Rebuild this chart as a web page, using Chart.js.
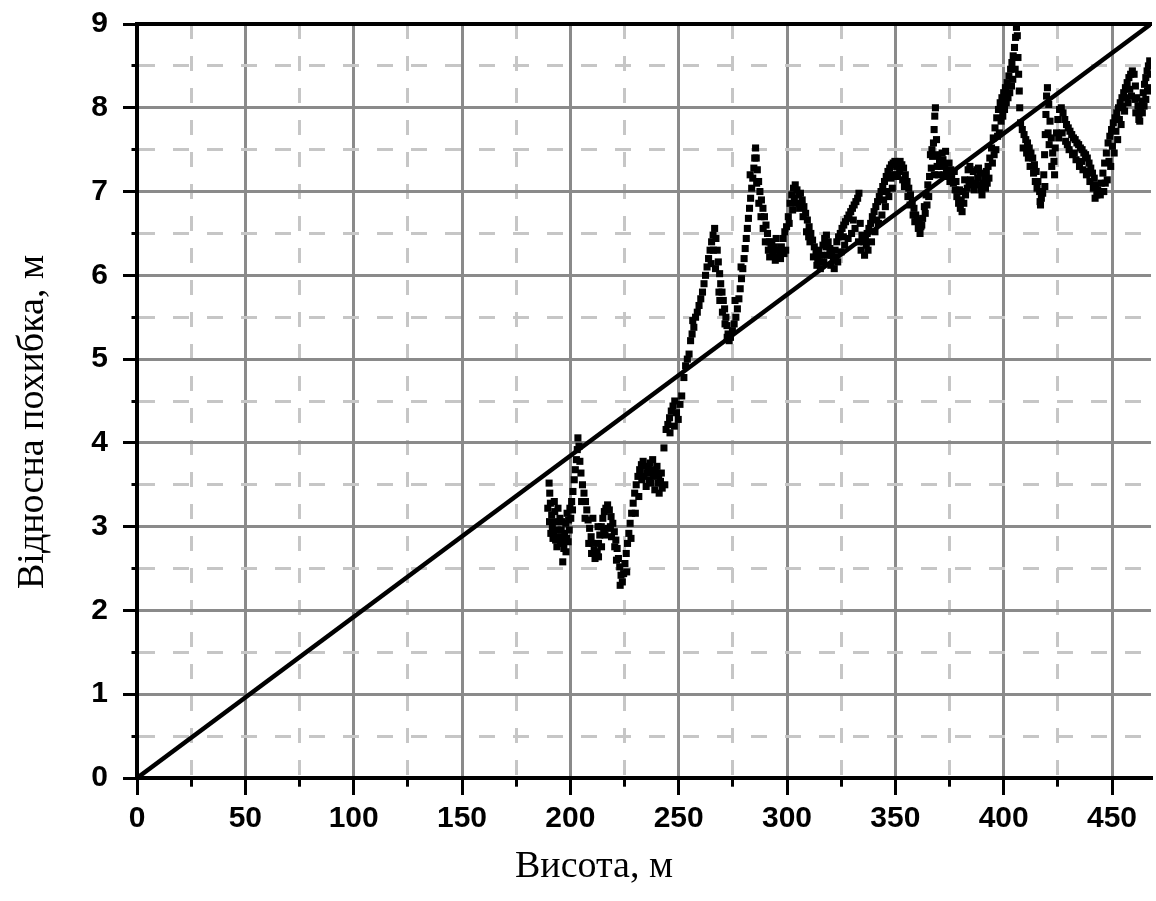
<!DOCTYPE html>
<html lang="uk">
<head>
<meta charset="utf-8">
<title>Відносна похибка від висоти</title>
<script src="https://cdn.jsdelivr.net/npm/chart.js@4/dist/chart.umd.min.js"></script>
<style>
  html, body { margin: 0; padding: 0; background: #ffffff; }
  canvas { display: block; }
</style>
</head>
<body>
<canvas id="chart" width="1156" height="901"></canvas>
<script>
// Measured relative error [height m, error m], grouped by height range
const band190to252 = [
  [190.2,3.52],[190.5,3.40],[190.8,3.28],[189.6,3.22],[191.4,3.14],[190.4,3.06],[191.7,3.00],[192.0,2.86],
  [192.3,2.94],[192.8,3.18],[193.5,3.06],[193.8,2.76],[194.0,2.96],[194.6,2.88],[193.2,2.84],[195.2,3.10],
  [195.5,2.82],[195.8,2.96],[196.2,2.86],[196.8,2.80],[197.0,2.74],[197.4,2.92],[197.9,3.04],[198.3,2.86],
  [198.5,3.16],[199.2,3.08],[199.5,2.96],[199.8,3.22],[200.2,3.10],[200.6,3.30],[196.5,2.58],
  [201.2,3.42],[201.8,3.56],[202.3,3.68],[202.8,3.80],[203.2,3.92],[203.5,4.06],[204.0,3.96],[204.4,3.78],
  [204.9,3.64],[205.6,3.50],[206.3,3.40],[207.0,3.30],[207.6,3.20],[208.2,3.08],[208.9,2.98],[209.6,2.88],
  [210.3,2.80],[211.0,2.72],[211.7,2.66],[212.4,2.70],[213.0,2.80],[213.6,2.90],[214.3,3.00],[215.0,3.10],
  [215.7,3.18],[216.4,3.22],[217.2,3.26],[218.0,3.20],[218.8,3.12],[219.6,3.04],[220.3,2.94],[221.0,2.84],
  [221.6,2.74],[222.2,2.62],[222.8,2.52],[223.4,2.42],[224.0,2.34],[224.6,2.44],[225.2,2.56],[225.8,2.68],
  [226.4,2.80],[227.0,2.92],[227.6,3.04],[228.3,3.16],[229.0,3.28],[229.7,3.40],[230.4,3.50],[231.2,3.60],
  [232.0,3.68],[232.8,3.74],[233.6,3.78],[234.4,3.72],[235.2,3.64],[236.0,3.70],[236.8,3.76],[237.6,3.68],
  [238.4,3.60],[239.2,3.66],[240.0,3.72],[240.8,3.62],[241.6,3.54],[242.4,3.46],
  [209.8,2.68],[211.4,2.62],[213.0,2.64],[214.4,2.76],[216.0,2.90],[217.4,2.98],[219.0,2.88],[220.5,2.76],
  [212.8,3.00],[210.4,3.10],
  [233.0,3.56],[235.0,3.48],[237.0,3.52],[239.0,3.44],[241.0,3.40],[243.2,3.94],
  [244.2,4.16],[245.0,4.22],[245.8,4.30],[246.6,4.38],[247.4,4.44],[248.2,4.50],[249.0,4.36],[249.8,4.28],
  [250.6,4.46],[251.4,4.56],[246.0,4.12],[248.0,4.20],
  [191.0,2.92],[192.6,3.30],[194.3,3.22],[196.0,3.06],[198.0,2.70],[199.0,2.82],[201.0,3.20],[205.2,3.30],
  [206.8,3.10],[208.5,2.80],[215.4,2.96],[218.5,3.00],[221.3,2.60],[223.0,2.30],[226.0,2.46],[228.0,2.86],
  [230.0,3.16],[231.6,3.36],[234.0,3.60],[236.4,3.56],[238.0,3.80],[240.4,3.52],[242.0,3.64],[243.6,3.50]
];

const band252to300 = [
  [252.4,4.78],[253.2,4.92],[254.0,5.00],[254.8,5.06],[255.5,5.22],[256.2,5.30],[257.0,5.38],[256.5,5.46],
  [257.8,5.50],[258.6,5.56],[259.4,5.64],[260.2,5.72],[261.0,5.80],[261.7,5.90],[262.4,6.00],[263.1,6.10],
  [263.8,6.20],[264.5,6.30],[265.2,6.40],[265.9,6.48],[266.6,6.56],[267.2,6.44],[267.8,6.30],[268.3,6.16],
  [267.0,6.08],[268.9,6.02],[269.4,5.90],[270.0,5.80],[270.6,5.70],[271.2,5.60],[271.8,5.50],[272.3,5.40],
  [272.8,5.30],[273.3,5.22],[269.0,5.70],[270.2,5.56],[271.4,5.42],[272.4,5.26],
  [273.9,5.26],[274.8,5.34],[275.6,5.42],[276.4,5.50],[277.1,5.60],[277.8,5.72],[278.4,5.84],[279.0,5.96],
  [279.6,6.08],[280.2,6.20],[280.7,6.32],[281.2,6.44],[281.7,6.56],[282.2,6.68],[282.7,6.80],[283.2,6.92],
  [283.7,7.04],[284.2,7.16],[284.7,7.28],[285.1,7.40],[285.5,7.52],
  [285.8,7.40],[286.3,7.26],[286.9,7.12],[287.5,7.00],[288.2,6.90],[288.9,6.80],[289.6,6.70],[290.3,6.60],
  [291.0,6.50],[291.8,6.40],[292.6,6.32],[293.4,6.26],[294.2,6.34],[295.0,6.44],[295.8,6.30],[296.6,6.24],
  [297.4,6.34],[298.2,6.44],[299.0,6.52],[299.8,6.58],[292.0,6.22],[294.6,6.18],[297.0,6.20],[299.4,6.30],
  [286.0,7.10],[287.0,6.86],[288.0,6.70],[289.0,6.56],[290.0,6.40],[291.4,6.30],[293.0,6.40],[295.4,6.22],
  [298.6,6.26],[266.0,6.30],[265.0,6.14],[268.6,5.80],[276.0,5.70],[278.8,6.10],[283.0,7.20]
];

const band300to350 = [
  [300.6,6.70],[301.4,6.86],[302.2,6.96],[303.0,7.04],[303.8,7.08],[304.6,7.02],[305.4,6.96],[306.2,6.98],
  [307.0,6.90],[307.8,6.82],[308.6,6.74],[309.4,6.66],[310.2,6.58],[311.0,6.50],[311.8,6.42],[312.6,6.34],
  [313.4,6.26],[314.2,6.20],[315.0,6.16],[315.8,6.24],[316.6,6.36],[317.4,6.44],[318.2,6.48],[319.0,6.40],
  [319.8,6.32],[320.6,6.24],[321.4,6.18],[322.2,6.30],[323.0,6.40],[323.8,6.46],[324.6,6.50],[325.4,6.56],
  [326.2,6.60],[327.0,6.64],[327.8,6.68],[328.6,6.72],[329.4,6.76],[330.2,6.80],[331.0,6.84],[331.8,6.88],
  [332.6,6.92],[333.2,6.98],[333.8,6.62],[334.6,6.48],[335.4,6.40],[336.2,6.44],[337.0,6.50],[337.8,6.56],
  [338.6,6.62],[339.4,6.70],[340.2,6.76],[341.0,6.82],[341.8,6.88],[342.6,6.94],[343.4,7.00],[344.2,7.06],
  [345.0,7.12],[345.8,7.18],[346.6,7.24],[347.4,7.28],[348.2,7.32],[349.0,7.34],[349.8,7.36],
  [301.0,6.62],[302.6,6.78],[304.2,6.86],[305.8,6.80],[307.4,6.70],[309.0,6.52],[310.6,6.40],[312.2,6.22],
  [313.8,6.12],[315.4,6.08],[317.0,6.16],[318.6,6.24],[320.2,6.12],[321.8,6.08],[323.4,6.16],[325.0,6.28],
  [326.6,6.36],[328.2,6.44],[329.8,6.50],[331.4,6.56],[333.0,6.40],[334.2,6.30],[335.8,6.24],[337.4,6.30],
  [339.0,6.40],[340.6,6.52],[342.2,6.62],[343.8,6.72],[345.4,6.82],[347.0,6.94],[348.6,7.04],
  [303.4,6.92],[306.8,6.84],[310.0,6.46],[314.6,6.30],[318.0,6.34],[322.6,6.22],[326.0,6.46],[330.6,6.66],
  [336.6,6.36],[341.4,6.66],[344.6,6.90],[346.2,7.00],[348.0,7.16],[349.4,7.20]
];

const band350to408 = [
  [350.6,7.30],[351.4,7.34],[352.2,7.36],[353.0,7.32],[353.8,7.28],[354.6,7.20],[355.4,7.12],[356.2,7.04],
  [357.0,6.96],[357.8,6.88],[358.6,6.80],[359.4,6.72],[360.2,6.66],[361.0,6.62],[361.8,6.58],[362.6,6.68],
  [363.4,6.82],[364.2,6.96],[365.0,7.08],[365.8,7.18],[366.6,7.28],[367.2,7.42],[367.6,7.58],[367.9,7.74],
  [368.2,7.90],[368.5,8.00],[369.0,7.62],[369.6,7.44],[370.4,7.36],[371.2,7.30],[372.0,7.38],[372.8,7.32],
  [373.6,7.24],[374.4,7.18],[375.2,7.12],[376.0,7.16],[376.8,7.10],[377.6,7.02],[378.4,6.94],[379.2,6.86],
  [380.0,6.80],[380.8,6.76],[381.6,6.86],[382.4,6.96],[383.2,7.04],[384.0,7.10],[384.8,7.14],[385.6,7.08],
  [386.4,7.02],[387.2,7.10],[388.0,7.16],[388.8,7.08],[389.6,7.02],[390.4,7.10],[391.2,7.18],[392.0,7.24],
  [392.8,7.30],[393.6,7.40],[394.4,7.52],[395.2,7.64],[396.0,7.76],[396.8,7.88],[397.6,7.98],[398.4,8.06],
  [399.2,8.12],[400.0,8.18],[400.8,8.24],[401.6,8.30],[402.4,8.38],[403.2,8.46],[403.8,8.54],[404.4,8.62],
  [405.0,8.72],[405.5,8.84],[405.9,8.96],[406.3,8.86],[406.6,8.60],[406.9,8.40],[407.2,8.20],[407.4,8.00],
  [351.0,7.18],[353.4,7.14],[355.8,6.94],[358.2,6.72],[360.6,6.56],[362.2,6.60],[363.8,6.74],[365.4,6.94],
  [366.2,7.44],[368.0,7.20],[370.0,7.20],[371.6,7.46],[373.2,7.48],[374.8,7.34],[377.2,7.24],[379.6,7.02],
  [382.0,7.14],[383.6,7.26],[386.0,7.24],[388.4,7.28],[390.0,6.96],[391.6,7.04],[393.2,7.16],[394.8,7.34],
  [396.4,7.50],[398.0,7.70],[399.6,7.90],[401.2,8.06],[402.8,8.18],[404.2,8.34],
  [350.2,7.20],[352.0,7.24],[354.2,7.06],[356.8,6.84],[359.0,6.64],[361.4,6.50],[364.6,6.84],[366.9,7.50],
  [369.3,7.30],[372.4,7.20],[375.6,7.26],[378.0,7.12],[380.4,6.90],[381.2,7.00],[384.4,7.30],[387.6,7.26],
  [389.2,7.22],[392.4,7.10],[395.6,7.44],[397.2,7.66],[398.8,7.84],[400.4,7.98],[402.0,8.12],[403.6,8.26],
  [405.3,8.46]
];

const band408to468 = [
  [407.8,7.82],[408.6,7.74],[409.4,7.68],[410.2,7.62],[411.0,7.58],[411.8,7.52],[412.6,7.46],[413.4,7.40],
  [414.2,7.32],[415.0,7.24],[415.8,7.12],[416.6,7.00],[417.4,6.92],[418.0,6.98],[418.5,7.20],[418.9,7.44],
  [419.2,7.68],[419.5,7.92],[419.8,8.14],[420.2,8.24],[420.8,8.04],[421.4,7.84],[422.0,7.64],[422.6,7.46],
  [423.2,7.36],[423.8,7.52],[424.4,7.70],[425.0,7.86],[425.8,7.98],[426.6,8.00],[427.4,7.94],[428.2,7.86],
  [429.0,7.80],[429.8,7.76],[430.6,7.72],[431.4,7.68],[432.2,7.64],[433.0,7.62],[433.8,7.58],[434.6,7.56],
  [435.4,7.52],[436.2,7.50],[437.0,7.46],[437.8,7.44],[438.6,7.40],[439.4,7.34],[440.2,7.28],[441.0,7.22],
  [441.8,7.16],[442.6,7.08],[443.4,7.02],[444.2,7.00],[445.0,7.10],[445.8,7.22],[446.6,7.34],[447.4,7.46],
  [448.2,7.58],[449.0,7.66],[449.8,7.74],[450.6,7.82],[451.4,7.88],[452.2,7.94],[453.0,8.00],[453.8,8.06],
  [454.6,8.12],[455.4,8.18],[456.2,8.24],[457.0,8.30],[457.8,8.36],[458.6,8.40],[459.4,8.44],[460.2,8.40],
  [460.8,8.26],[461.4,8.12],[462.0,8.02],[462.6,7.94],[463.2,7.98],[463.8,8.08],[464.4,8.18],[465.0,8.28],
  [465.6,8.36],[466.2,8.44],[466.8,8.50],[467.4,8.56],
  [428.6,7.60],[430.2,7.50],[431.8,7.44],[433.4,7.38],[435.0,7.30],[436.6,7.26],[438.2,7.20],[439.8,7.12],
  [441.4,7.04],[443.0,6.96],[446.2,7.00],[447.8,7.14],[449.4,7.30],[451.0,7.46],[452.6,7.62],[454.2,7.80],
  [455.8,7.96],[457.4,8.06],[459.0,8.14],[461.0,7.94],[462.4,7.86],[464.0,7.94],[465.6,8.10],[467.2,8.24],
  [409.0,7.52],[411.4,7.40],[413.8,7.22],[415.4,7.04],[416.8,6.88],[421.0,7.56],[422.2,7.30],
  [410.6,7.46],[412.2,7.30],[414.6,7.12],[417.0,6.84],[419.0,7.06],[420.5,7.70],[423.5,7.20],[425.4,7.64],
  [427.0,7.70],[429.4,7.56],[432.6,7.46],[436.0,7.36],[439.0,7.24],[442.2,6.92],[444.6,6.96],[446.9,7.10],
  [448.6,7.36],[450.2,7.54],[451.8,7.72],[453.4,7.86],[455.0,8.02],[456.6,8.12],[458.2,8.22],[460.6,8.10],
  [462.8,7.84],[464.8,8.02],[466.4,8.20],[467.8,8.40]
];

// Linear trend of the error with height
const trendHeights = [0, 468];
const trendErrors = [0, 9];

// Axis ranges, tick steps and titles
const heightRange = [0, 468];
const errorRange = [0, 9];
const heightStep = 25, heightLabelStep = 50;
const errorStep = 0.5, errorLabelStep = 1;
const heightTitle = 'Висота, м';
const errorTitle = 'Відносна похибка, м';

const measured = [band190to252, band252to300, band300to350, band350to408, band408to468]
  .flat()
  .map(([x, y]) => ({ x, y }));
const trend = trendHeights.map((x, i) => ({ x, y: trendErrors[i] }));

const MAJOR_GRID = '#8a8a8a';
const MINOR_GRID = '#c6c6c6';
const NONE = 'rgba(0,0,0,0)';
const tickFont = { family: '"Liberation Sans", Arial, Helvetica, sans-serif', size: 30, weight: 'bold' };

const onStep = (v, step) => Math.abs(v / step - Math.round(v / step)) < 1e-6;

function gridColor(step, labelStep) {
  return c => {
    if (!c.tick) return NONE;
    const v = c.tick.value;
    if (v === 0 || !onStep(v, step)) return NONE;
    return onStep(v, labelStep) ? MAJOR_GRID : MINOR_GRID;
  };
}
function tickColor(step) {
  return c => (c.tick && onStep(c.tick.value, step)) ? '#000' : NONE;
}
function gridDash(labelStep, dash) {
  return c => (c.tick && !onStep(c.tick.value, labelStep)) ? dash : [];
}

// Titles for both axes, drawn in a serif face
const axisTitles = {
  id: 'axisTitles',
  afterDraw(chart) {
    const { ctx } = chart;
    ctx.save();
    ctx.fillStyle = '#000';
    ctx.font = '38px "Liberation Serif", "Times New Roman", serif';
    ctx.textAlign = 'center';
    ctx.textBaseline = 'alphabetic';
    ctx.fillText(heightTitle, 594, 877);
    ctx.translate(43, 422);
    ctx.rotate(-Math.PI / 2);
    ctx.fillText(errorTitle, 0, 0);
    ctx.restore();
  }
};

new Chart(document.getElementById('chart'), {
  type: 'scatter',
  data: {
    datasets: [
      {
        label: 'measured',
        data: measured,
        pointStyle: 'rect',
        pointRadius: 5,
        backgroundColor: '#000',
        borderWidth: 0,
        order: 2
      },
      {
        label: 'trend',
        data: trend,
        showLine: true,
        borderColor: '#000',
        borderWidth: 4.5,
        pointRadius: 0,
        order: 1
      }
    ]
  },
  options: {
    responsive: false,
    animation: false,
    events: [],
    layout: { padding: { left: 0, right: 0, top: 24, bottom: 0 } },
    plugins: { legend: { display: false }, tooltip: { enabled: false } },
    scales: {
      x: {
        type: 'linear',
        position: 'bottom',
        min: heightRange[0],
        max: heightRange[1],
        bounds: 'data',
        grid: {
          color: gridColor(heightStep, heightLabelStep),
          lineWidth: 3,
          tickColor: tickColor(heightStep),
          tickWidth: 3,
          tickLength: 17,
          tickBorderDash: gridDash(heightLabelStep, [6.7, 40])
        },
        border: { display: true, color: '#000', width: 4, dash: gridDash(heightLabelStep, [15, 17]) },
        ticks: {
          stepSize: heightStep,
          includeBounds: false,
          autoSkip: false,
          maxRotation: 0,
          maxTicksLimit: 100,
          padding: 6,
          color: '#000',
          font: tickFont,
          callback: v => onStep(v, heightLabelStep) ? String(v) : ''
        },
        afterFit(scale) {
          scale.height = 123;
          scale.paddingLeft = 0;
          scale.paddingRight = 0;
        }
      },
      y: {
        type: 'linear',
        position: 'left',
        min: errorRange[0],
        max: errorRange[1],
        bounds: 'data',
        grid: {
          color: gridColor(errorStep, errorLabelStep),
          lineWidth: 3,
          tickColor: tickColor(errorStep),
          tickWidth: 3,
          tickLength: 14,
          tickBorderDash: gridDash(errorLabelStep, [0, 8.5, 20])
        },
        border: { display: true, color: '#000', width: 4, dash: gridDash(errorLabelStep, [16, 18]) },
        ticks: {
          stepSize: errorStep,
          autoSkip: false,
          maxTicksLimit: 100,
          padding: 15,
          color: '#000',
          font: tickFont,
          callback: v => onStep(v, errorLabelStep) ? String(v) : ''
        },
        afterFit(scale) {
          scale.width = 137;
          scale.paddingTop = 0;
          scale.paddingBottom = 0;
        }
      },
      frameTop: {
        type: 'linear',
        position: 'top',
        axis: 'x',
        min: heightRange[0],
        max: heightRange[1],
        grid: { display: false, drawTicks: false },
        border: { display: true, color: '#000', width: 4 },
        ticks: { display: false },
        afterFit(scale) {
          scale.height = 0;
          scale.paddingLeft = 0;
          scale.paddingRight = 0;
        }
      }
    }
  },
  plugins: [axisTitles]
});
</script>
</body>
</html>
